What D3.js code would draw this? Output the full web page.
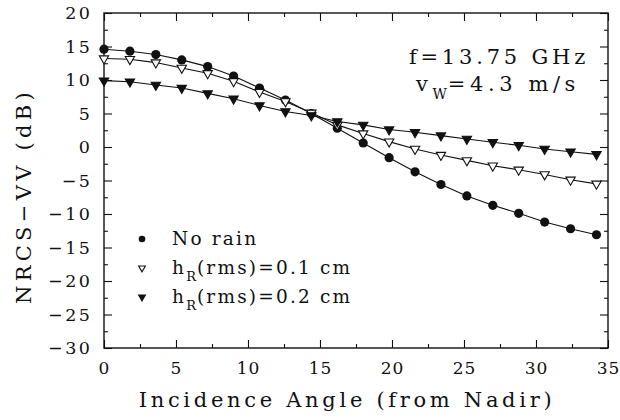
<!DOCTYPE html>
<html>
<head>
<meta charset="utf-8">
<script src="https://cdn.jsdelivr.net/npm/d3@7"></script>
<style>
  body { margin: 0; background: #fff; }
  text { font-family: "DejaVu Serif", "Liberation Serif", serif; fill: #111; }
</style>
</head>
<body>
<script>
// incidence angles (deg) and NRCS values (dB)
const angles = [0, 1.8, 3.6, 5.4, 7.2, 9.0, 10.8, 12.6, 14.4, 16.2, 18.0, 19.8, 21.6, 23.4, 25.2, 27.0, 28.8, 30.6, 32.4, 34.2];
const noRain = [14.6, 14.3, 13.8, 13.0, 12.0, 10.6, 8.8, 7.0, 5.0, 2.8, 0.6, -1.6, -3.7, -5.6, -7.3, -8.7, -9.9, -11.2, -12.2, -13.1];
const rain01 = [13.2, 13.1, 12.6, 11.8, 11.0, 9.8, 8.2, 6.8, 5.1, 3.3, 2.0, 0.8, -0.3, -1.2, -2.0, -2.8, -3.4, -4.1, -4.9, -5.5];
const rain02 = [9.9, 9.75, 9.25, 8.8, 8.0, 7.2, 6.2, 5.3, 4.7, 3.8, 3.3, 2.6, 2.2, 1.7, 1.2, 0.7, 0.25, -0.3, -0.7, -1.1];

const xTicks = [0, 5, 10, 15, 20, 25, 30, 35];
const yTicks = [-30, -25, -20, -15, -10, -5, 0, 5, 10, 15, 20];

const width = 620, height = 420;
const pLeft = 104, pRight = 608, pTop = 13, pBottom = 348;

const svg = d3.select("body").append("svg")
    .attr("width", width)
    .attr("height", height);

const x = d3.scaleLinear().domain([0, 35]).range([pLeft, pRight]);
const y = d3.scaleLinear().domain([-30, 20]).range([pBottom, pTop]);

const fmt = d => d < 0 ? "\u2212" + Math.abs(d) : String(d);
const minorX = d3.range(0, 35, 2.5).filter(v => v % 5 !== 0);
const minorY = d3.range(-30, 20, 2.5).filter(v => v % 5 !== 0);

function styleAxis(g) {
    g.select(".domain").remove();
    g.attr("font-family", null);
    g.selectAll(".tick line").attr("stroke", "#111").attr("stroke-width", 1.1);
    g.selectAll(".tick text").attr("font-size", 17.5).attr("letter-spacing", 2.5).attr("fill", "#111");
}

// bottom axis with labels, ticks pointing inward
svg.append("g").attr("transform", `translate(0,${pBottom})`)
    .call(d3.axisBottom(x).tickValues(xTicks).tickSize(-8).tickPadding(14).tickFormat(fmt))
    .call(styleAxis)
    .selectAll(".tick text").attr("font-size", 17).attr("letter-spacing", 1);
svg.append("g").attr("transform", `translate(0,${pBottom})`)
    .call(d3.axisBottom(x).tickValues(minorX).tickSize(-4).tickFormat(""))
    .call(styleAxis);
// top axis
svg.append("g").attr("transform", `translate(0,${pTop})`)
    .call(d3.axisTop(x).tickValues(xTicks).tickSize(-8).tickFormat(""))
    .call(styleAxis);
svg.append("g").attr("transform", `translate(0,${pTop})`)
    .call(d3.axisTop(x).tickValues(minorX).tickSize(-4).tickFormat(""))
    .call(styleAxis);
// left axis with labels
svg.append("g").attr("transform", `translate(${pLeft},0)`)
    .call(d3.axisLeft(y).tickValues(yTicks).tickSize(-8).tickPadding(11.5).tickFormat(fmt))
    .call(styleAxis);
svg.append("g").attr("transform", `translate(${pLeft},0)`)
    .call(d3.axisLeft(y).tickValues(minorY).tickSize(-4).tickFormat(""))
    .call(styleAxis);
// right axis
svg.append("g").attr("transform", `translate(${pRight},0)`)
    .call(d3.axisRight(y).tickValues(yTicks).tickSize(-8).tickFormat(""))
    .call(styleAxis);
svg.append("g").attr("transform", `translate(${pRight},0)`)
    .call(d3.axisRight(y).tickValues(minorY).tickSize(-4).tickFormat(""))
    .call(styleAxis);

// frame
svg.append("rect")
    .attr("x", pLeft).attr("y", pTop)
    .attr("width", pRight - pLeft).attr("height", pBottom - pTop)
    .attr("fill", "none").attr("stroke", "#111").attr("stroke-width", 1.4);

// series
const series = [
    { name: "noRain", values: noRain, marker: "circle" },
    { name: "rain01", values: rain01, marker: "openTri" },
    { name: "rain02", values: rain02, marker: "filledTri" }
];

const line = d3.line().x(d => x(d[0])).y(d => y(d[1]));
const tri = d3.symbol().type(d3.symbolTriangle);

function drawMarker(g, kind, cx, cy, scale) {
    if (kind === "circle") {
        g.append("circle").attr("cx", cx).attr("cy", cy).attr("r", 4.6 * scale).attr("fill", "#111");
    } else {
        g.append("path")
            .attr("d", tri.size(38 * scale * scale)())
            .attr("transform", `translate(${cx},${cy}) rotate(180)`)
            .attr("fill", kind === "filledTri" ? "#111" : "#fff")
            .attr("stroke", "#111").attr("stroke-width", 1.1);
    }
}

series.forEach(s => {
    const pts = angles.map((a, i) => [a, s.values[i]]);
    svg.append("path").datum(pts)
        .attr("d", line)
        .attr("fill", "none").attr("stroke", "#111").attr("stroke-width", 1.1);
    const g = svg.append("g");
    pts.forEach(p => drawMarker(g, s.marker, x(p[0]), y(p[1]), 1));
});

// annotation
const ann = svg.append("g").attr("font-size", 21);
ann.append("text").attr("x", 589).attr("y", 64).attr("text-anchor", "end")
    .attr("letter-spacing", 3.8).text("f=13.75 GHz");
const v = ann.append("text").attr("x", 580).attr("y", 91).attr("text-anchor", "end")
    .attr("letter-spacing", 4.6);
v.append("tspan").text("v");
v.append("tspan").attr("dy", 8).attr("font-size", 14).attr("letter-spacing", 1).text("W");
v.append("tspan").attr("dy", -8).text("=4.3 m/s");

// legend
const legendRows = [
    { marker: "circle", label: ["No rain"] },
    { marker: "openTri", label: ["h", "R", "(rms)=0.1 cm"] },
    { marker: "filledTri", label: ["h", "R", "(rms)=0.2 cm"] }
];
legendRows.forEach((r, i) => {
    const cy = 239 + i * 29;
    drawMarker(svg, r.marker, 142, cy, 0.72);
    const t = svg.append("text").attr("x", 172).attr("y", cy + 6)
        .attr("font-size", 18.5).attr("letter-spacing", 2.2);
    if (r.label.length === 1) {
        t.text(r.label[0]);
    } else {
        t.append("tspan").text(r.label[0]);
        t.append("tspan").attr("dy", 7).attr("font-size", 13).attr("letter-spacing", 1).text(r.label[1]);
        t.append("tspan").attr("dy", -7).text(r.label[2]);
    }
});

// axis titles
svg.append("text")
    .attr("x", 347).attr("y", 407)
    .attr("text-anchor", "middle").attr("font-size", 21).attr("letter-spacing", 3.7)
    .text("Incidence Angle (from Nadir)");
svg.append("text")
    .attr("transform", "translate(31,196) rotate(-90)")
    .attr("text-anchor", "middle").attr("font-size", 21).attr("letter-spacing", 4.3)
    .text("NRCS\u2212VV (dB)");
</script>
</body>
</html>
